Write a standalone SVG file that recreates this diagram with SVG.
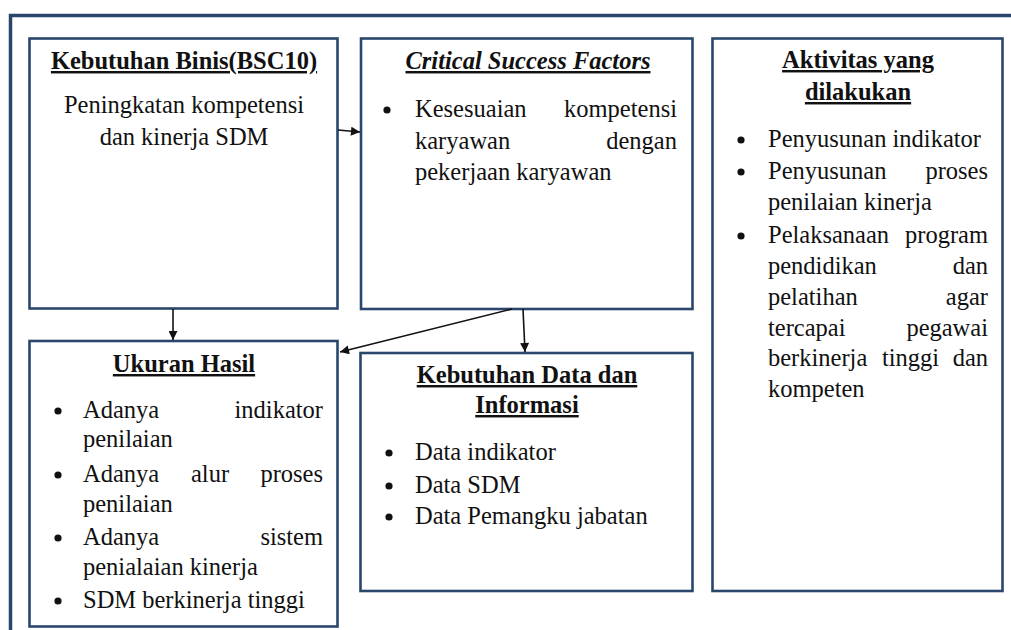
<svg xmlns="http://www.w3.org/2000/svg" width="1011" height="630" viewBox="0 0 1011 630">
  <defs>
    <style>
      .frame { fill: none; stroke: #2b466d; stroke-width: 3.5; }
      .box { fill: #ffffff; stroke: #2b466d; stroke-width: 2.6; }
      .t { font-family: "Liberation Serif", "Times New Roman", serif; font-size: 24.5px; fill: #111111; }
      .h { font-weight: bold; text-decoration: underline; }
      .hi { font-weight: bold; font-style: italic; text-decoration: underline; }
      .mid { text-anchor: middle; }
      .end { text-anchor: end; }
      .dot { fill: #111111; }
      .conn { stroke: #111111; stroke-width: 1.6; fill: none; }
    </style>
    <marker id="arrow" viewBox="0 0 10 10" refX="10" refY="5" markerWidth="10" markerHeight="9" markerUnits="userSpaceOnUse" orient="auto">
      <path d="M0,0 L10,5 L0,10 Z" fill="#111111"/>
    </marker>
  </defs>

  <rect width="1011" height="630" fill="#ffffff"/>

  <!-- outer frame, running past the right and bottom edges -->
  <rect class="frame" x="10.5" y="15.5" width="1100" height="700"/>

  <!-- Kebutuhan Bisnis -->
  <g id="kebutuhan-bisnis">
    <rect class="box" x="29.5" y="38.5" width="308" height="270"/>
    <text class="t h mid" x="184" y="69">Kebutuhan Binis(BSC10)</text>
    <text class="t mid" x="184" y="113">Peningkatan kompetensi</text>
    <text class="t mid" x="184" y="145">dan kinerja SDM</text>
  </g>

  <!-- Critical Success Factors -->
  <g id="critical-success-factors">
    <rect class="box" x="361" y="38.5" width="331.5" height="270.5"/>
    <text class="t hi mid" x="528" y="69">Critical Success Factors</text>
    <circle class="dot" cx="387" cy="110" r="3.6"/>
    <text class="t" x="415" y="117">Kesesuaian</text>
    <text class="t end" x="677" y="117">kompetensi</text>
    <text class="t" x="415" y="149">karyawan</text>
    <text class="t end" x="677" y="149">dengan</text>
    <text class="t" x="415" y="180">pekerjaan karyawan</text>
  </g>

  <!-- Aktivitas yang dilakukan -->
  <g id="aktivitas">
    <rect class="box" x="712.5" y="38.5" width="290" height="552.5"/>
    <text class="t h mid" x="858" y="68">Aktivitas yang</text>
    <text class="t h mid" x="858" y="100">dilakukan</text>
    <circle class="dot" cx="741" cy="140" r="3.6"/>
    <text class="t" x="768" y="147">Penyusunan indikator</text>
    <circle class="dot" cx="741" cy="172" r="3.6"/>
    <text class="t" x="768" y="179">Penyusunan</text>
    <text class="t end" x="988" y="179">proses</text>
    <text class="t" x="768" y="210">penilaian kinerja</text>
    <circle class="dot" cx="741" cy="236" r="3.6"/>
    <text class="t" x="768" y="243">Pelaksanaan</text>
    <text class="t end" x="988" y="243">program</text>
    <text class="t" x="768" y="274">pendidikan</text>
    <text class="t end" x="988" y="274">dan</text>
    <text class="t" x="768" y="305">pelatihan</text>
    <text class="t end" x="988" y="305">agar</text>
    <text class="t" x="768" y="336">tercapai</text>
    <text class="t end" x="988" y="336">pegawai</text>
    <text class="t" x="768" y="366">berkinerja</text>
    <text class="t" x="882" y="366">tinggi</text>
    <text class="t end" x="988" y="366">dan</text>
    <text class="t" x="768" y="397">kompeten</text>
  </g>

  <!-- Ukuran Hasil -->
  <g id="ukuran-hasil">
    <rect class="box" x="29.5" y="341" width="308" height="285.5"/>
    <text class="t h mid" x="184" y="372">Ukuran Hasil</text>
    <circle class="dot" cx="58" cy="411" r="3.6"/>
    <text class="t" x="83" y="418">Adanya</text>
    <text class="t end" x="323" y="418">indikator</text>
    <text class="t" x="83" y="447">penilaian</text>
    <circle class="dot" cx="58" cy="475" r="3.6"/>
    <text class="t" x="83" y="482">Adanya</text>
    <text class="t" x="191" y="482">alur</text>
    <text class="t end" x="323" y="482">proses</text>
    <text class="t" x="83" y="512">penilaian</text>
    <circle class="dot" cx="58" cy="538" r="3.6"/>
    <text class="t" x="83" y="545">Adanya</text>
    <text class="t end" x="323" y="545">sistem</text>
    <text class="t" x="83" y="575">penialaian kinerja</text>
    <circle class="dot" cx="58" cy="601" r="3.6"/>
    <text class="t" x="83" y="608">SDM berkinerja tinggi</text>
  </g>

  <!-- Kebutuhan Data dan Informasi -->
  <g id="kebutuhan-data">
    <rect class="box" x="360.5" y="353" width="332" height="238"/>
    <text class="t h mid" x="527" y="383">Kebutuhan Data dan</text>
    <text class="t h mid" x="527" y="413">Informasi</text>
    <circle class="dot" cx="389" cy="453" r="3.6"/>
    <text class="t" x="415" y="460">Data indikator</text>
    <circle class="dot" cx="389" cy="486" r="3.6"/>
    <text class="t" x="415" y="493">Data SDM</text>
    <circle class="dot" cx="389" cy="517" r="3.6"/>
    <text class="t" x="415" y="524">Data Pemangku jabatan</text>
  </g>

  <!-- connectors -->
  <g id="connectors">
    <line class="conn" x1="338" y1="130" x2="360" y2="132" marker-end="url(#arrow)"/>
    <line class="conn" x1="173" y1="309" x2="173" y2="340" marker-end="url(#arrow)"/>
    <line class="conn" x1="512" y1="309" x2="340" y2="352" marker-end="url(#arrow)"/>
    <line class="conn" x1="523" y1="309" x2="525" y2="352" marker-end="url(#arrow)"/>
  </g>
</svg>
